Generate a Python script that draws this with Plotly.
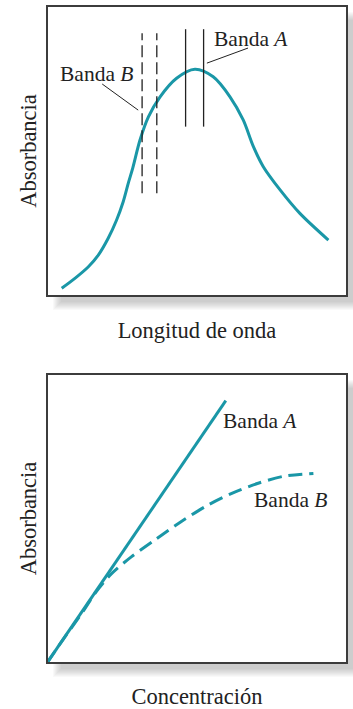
import plotly.graph_objects as go

# ---------------- data ----------------
# Top panel: absorption spectrum (arbitrary units, 0-100)
wave_x = [4.9, 9.3, 13.8, 17.1, 20.4, 23.2, 25.4, 27.1, 28.6, 31.0, 33.8, 37.7,
          43.2, 49.3, 55.4, 61.0, 65.4, 68.8, 72.1, 77.7, 84.3, 93.8]
wave_abs = [2.7, 6.1, 10.1, 14.1, 19.9, 26.2, 32.5, 38.9, 44.2, 53.8, 61.8, 68.7,
            75.1, 78.2, 75.6, 68.7, 60.7, 51.5, 44.6, 36.6, 28.5, 19.3]
band_b_x = [31.7, 36.6]          # dashed band limits
band_b_y = [35.4, 90.6]
band_a_x = [46.2, 52.2]          # solid band limits
band_a_y = [58.4, 92.0]
leader_b_x = [18.4, 30.4]
leader_b_y = [73.1, 64.1]
leader_a_x = [53.3, 67.0]
leader_a_y = [80.3, 85.5]

# Bottom panel: absorbance vs concentration
conc_a = [0.0, 59.6]
abs_a = [0.0, 90.8]
conc_b = [0.0, 5.8, 11.6, 16.0, 21.6, 28.2, 36.0, 43.8, 52.7, 61.6, 70.4, 79.3, 88.8]
abs_b = [0.0, 8.8, 17.2, 24.1, 31.0, 36.8, 42.6, 48.3, 54.1, 58.7, 62.2, 64.7, 65.6]

label_a = "Banda <i>A</i>"
label_b = "Banda <i>B</i>"
title_y = "Absorbancia"
title_x_top = "Longitud de onda"
title_x_bot = "Concentración"

# ---------------- layout constants ----------------
W, H = 353, 709
TEAL = "#1a97a7"
INK = "#222222"
FONT = "Liberation Serif, Times New Roman, serif"

def px2paper_x(p):
    return p / W

def px2paper_y(p):
    return 1 - p / H

boxes = {
    "top": (47, 6, 347, 296),
    "bot": (47, 374, 347, 663),
}

fig = go.Figure()

# top panel traces
fig.add_trace(go.Scatter(x=wave_x, y=wave_abs, mode="lines", line=dict(color=TEAL, width=3, shape="spline", smoothing=0.9),
                         xaxis="x", yaxis="y", showlegend=False, hoverinfo="skip"))
for bx in band_b_x:
    fig.add_trace(go.Scatter(x=[bx, bx], y=band_b_y, mode="lines", line=dict(color=INK, width=1.3, dash="12px,5px"),
                             xaxis="x", yaxis="y", showlegend=False, hoverinfo="skip"))
for ax_ in band_a_x:
    fig.add_trace(go.Scatter(x=[ax_, ax_], y=band_a_y, mode="lines", line=dict(color=INK, width=1.3),
                             xaxis="x", yaxis="y", showlegend=False, hoverinfo="skip"))
fig.add_trace(go.Scatter(x=leader_b_x, y=leader_b_y, mode="lines", line=dict(color=INK, width=1),
                         xaxis="x", yaxis="y", showlegend=False, hoverinfo="skip"))
fig.add_trace(go.Scatter(x=leader_a_x, y=leader_a_y, mode="lines", line=dict(color=INK, width=1),
                         xaxis="x", yaxis="y", showlegend=False, hoverinfo="skip"))

# bottom panel traces
fig.add_trace(go.Scatter(x=conc_b, y=abs_b, mode="lines", line=dict(color=TEAL, width=3, dash="14px,7px", shape="spline", smoothing=0.8),
                         xaxis="x2", yaxis="y2", showlegend=False, hoverinfo="skip"))
fig.add_trace(go.Scatter(x=conc_a, y=abs_a, mode="lines", line=dict(color=TEAL, width=3),
                         xaxis="x2", yaxis="y2", showlegend=False, hoverinfo="skip"))

shapes = []
for key, (x0, y0, x1, y1) in boxes.items():
    # soft drop shadow
    off = 10
    for e in range(-4, 5):
        shapes.append(dict(type="rect", xref="paper", yref="paper", layer="below",
                           x0=px2paper_x(x0 + off - e), x1=px2paper_x(x1 + off + e),
                           y0=px2paper_y(y1 + off + e), y1=px2paper_y(y0 + off - e),
                           line=dict(width=0), fillcolor="rgba(90,90,90,0.035)"))
    # white plot face
    shapes.append(dict(type="rect", xref="paper", yref="paper", layer="below",
                       x0=px2paper_x(x0), x1=px2paper_x(x1), y0=px2paper_y(y1), y1=px2paper_y(y0),
                       line=dict(width=0), fillcolor="white"))
    # frame
    shapes.append(dict(type="rect", xref="paper", yref="paper", layer="above",
                       x0=px2paper_x(x0), x1=px2paper_x(x1), y0=px2paper_y(y1), y1=px2paper_y(y0),
                       line=dict(width=2, color="#3c3c3c"), fillcolor="rgba(0,0,0,0)"))

tfont = dict(family=FONT, size=21.5, color=INK)
afont = dict(family=FONT, size=22.5, color=INK)

annotations = [
    dict(text=label_a, x=55.0, y=88.6, xref="x", yref="y", xanchor="left", yanchor="middle", showarrow=False, font=tfont),
    dict(text=label_b, x=29.3, y=76.6, xref="x", yref="y", xanchor="right", yanchor="middle", showarrow=False, font=tfont),
    dict(text=label_a, x=58.0, y=83.7, xref="x2", yref="y2", xanchor="left", yanchor="middle", showarrow=False, font=tfont),
    dict(text=label_b, x=68.3, y=56.4, xref="x2", yref="y2", xanchor="left", yanchor="middle", showarrow=False, font=tfont),
]

def axis(domain, anchor, title=None, standoff=0):
    d = dict(domain=domain, anchor=anchor, range=[0, 100], showgrid=False, zeroline=False,
             showticklabels=False, ticks="", showline=False, fixedrange=True)
    if title:
        d["title"] = dict(text=title, font=afont, standoff=standoff)
    return d

tx0, ty0, tx1, ty1 = boxes["top"]
bx0, by0, bx1, by1 = boxes["bot"]

fig.update_layout(
    width=W, height=H,
    margin=dict(l=0, r=0, t=0, b=0),
    paper_bgcolor="white", plot_bgcolor="rgba(0,0,0,0)",
    xaxis=axis([px2paper_x(tx0), px2paper_x(tx1)], "y", title_x_top, 26),
    yaxis=axis([px2paper_y(ty1), px2paper_y(ty0)], "x", title_y, 3),
    xaxis2=axis([px2paper_x(bx0), px2paper_x(bx1)], "y2", title_x_bot, 27),
    yaxis2=axis([px2paper_y(by1), px2paper_y(by0)], "x2", title_y, 3),
    shapes=shapes,
    annotations=annotations,
)

fig.write_html("out.html", config={"displayModeBar": False},
               post_script="document.body.style.margin='0';document.body.style.overflow='hidden';")
